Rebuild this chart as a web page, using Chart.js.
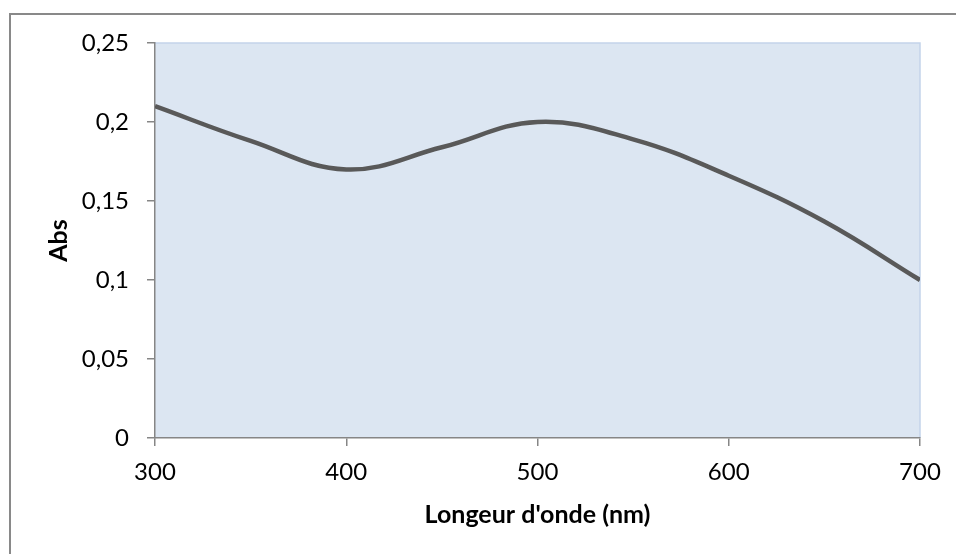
<!DOCTYPE html>
<html>
<head>
<meta charset="utf-8">
<script src="https://cdn.jsdelivr.net/npm/chart.js@4"></script>
<style>
  html, body { margin: 0; padding: 0; background: #fff; overflow: hidden; }
  #wrap { width: 956px; height: 554px; position: relative; }
</style>
</head>
<body>
<div id="wrap"><canvas id="absChart" width="956" height="554"></canvas></div>
<script>
    // wavelengths (nm) and absorbance
    const wavelengths = [300, 350, 400, 450, 500, 550, 600, 650, 700];
    const absValues   = [0.21, 0.188, 0.17, 0.184, 0.20, 0.189, 0.166, 0.137, 0.10];

    const xTickLabels = ['300', '400', '500', '600', '700'];
    const yTickLabels = ['0', '0,05', '0,1', '0,15', '0,2', '0,25'];

    const xTitle = "Longeur d'onde (nm)";
    const yTitle = 'Abs';

    const FONT = 'Lato, "Open Sans", sans-serif';

    // plot background + outer frame, like the spreadsheet chart
    const frame = {
      id: 'frame',
      beforeDraw(chart) {
        const { ctx, chartArea: a } = chart;
        ctx.save();
        ctx.fillStyle = '#fff';
        ctx.fillRect(0, 0, chart.width, chart.height);
        ctx.strokeStyle = '#898989';
        ctx.lineWidth = 2;
        ctx.strokeRect(10, 14, 1000, 1000);
        ctx.fillStyle = '#dce6f2';
        ctx.fillRect(a.left, a.top, a.right - a.left, a.bottom - a.top);
        ctx.strokeStyle = '#c3d4ea';
        ctx.lineWidth = 1.5;
        ctx.beginPath();
        ctx.moveTo(a.left, a.top);
        ctx.lineTo(a.right, a.top);
        ctx.lineTo(a.right, a.bottom);
        ctx.stroke();
        ctx.restore();
      }
    };

    const points = wavelengths.map((w, i) => ({ x: w, y: absValues[i] }));

    new Chart(document.getElementById('absChart'), {
      type: 'line',
      data: {
        datasets: [{
          data: points,
          borderColor: '#595959',
          borderWidth: 4.5,
          pointRadius: 0,
          fill: false,
          tension: 0.4
        }]
      },
      options: {
        responsive: false,
        animation: false,
        layout: { padding: { top: 43, right: 36, left: 0, bottom: 0 } },
        plugins: {
          legend: { display: false },
          tooltip: { enabled: false }
        },
        scales: {
          x: {
            type: 'linear',
            min: 300,
            max: 700,
            afterBuildTicks: (s) => { s.ticks = xTickLabels.map(t => ({ value: Number(t) })); },
            afterFit: (s) => { s.height = 116; },
            ticks: {
              callback: (v) => xTickLabels.find(t => Number(t) === v) ?? '',
              color: '#000',
              padding: 12,
              maxRotation: 0,
              font: { family: FONT, size: 24 }
            },
            grid: { drawOnChartArea: false, tickLength: 8, color: '#868686', lineWidth: 1.5 },
            border: { color: '#868686', width: 1.5 },
            title: {
              display: true,
              text: xTitle,
              color: '#000',
              padding: { top: 0, bottom: 24 },
              font: { family: FONT, size: 25, weight: 'bold' }
            }
          },
          y: {
            min: 0,
            max: 0.25,
            afterBuildTicks: (s) => { s.ticks = yTickLabels.map((t, i) => ({ value: i * 0.05 })); },
            afterFit: (s) => { s.width = 155; },
            ticks: {
              callback: (v, i) => yTickLabels[i],
              color: '#000',
              padding: 18,
              font: { family: FONT, size: 24 }
            },
            grid: { drawOnChartArea: false, tickLength: 8, color: '#868686', lineWidth: 1.5 },
            border: { color: '#868686', width: 1.5 },
            title: {
              display: true,
              text: yTitle,
              color: '#000',
              padding: { top: 44, bottom: 0 },
              font: { family: FONT, size: 25, weight: 'bold' }
            }
          }
        }
      },
      plugins: [frame]
    });
</script>
</body>
</html>
